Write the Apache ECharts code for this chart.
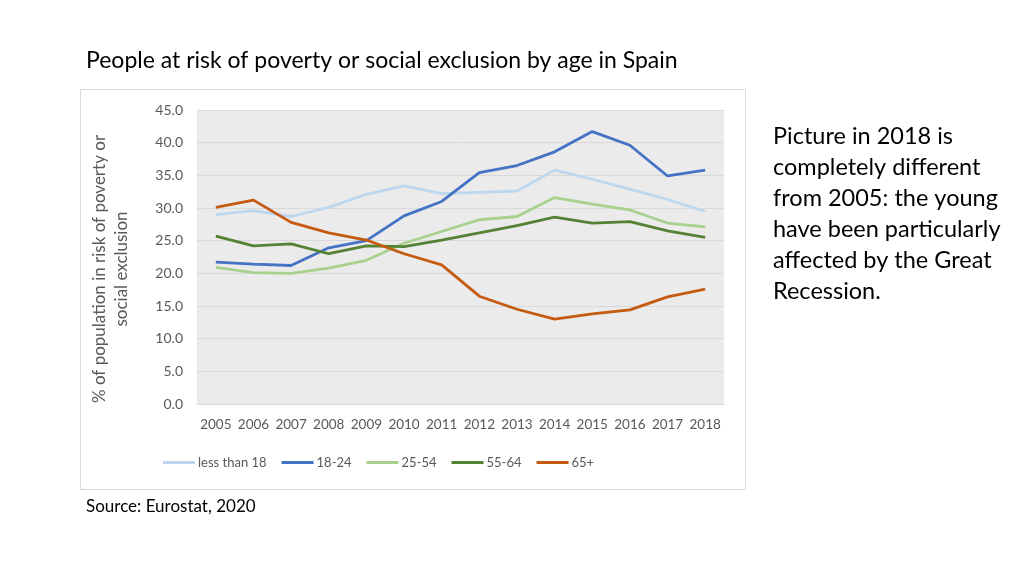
<!DOCTYPE html>
<html>
<head>
<meta charset="utf-8">
<script src="https://cdn.jsdelivr.net/npm/echarts@6/dist/echarts.min.js"></script>
<style>
  html, body { margin: 0; padding: 0; background: #fff; }
  #chart { width: 1024px; height: 576px; }
</style>
</head>
<body>
<div id="chart"></div>
<script>
// data (% of population)
const years = ['2005', '2006', '2007', '2008', '2009', '2010', '2011', '2012', '2013', '2014', '2015', '2016', '2017', '2018'];
const lessThan18 = [29.0, 29.6, 28.7, 30.1, 32.1, 33.4, 32.2, 32.4, 32.6, 35.8, 34.4, 32.9, 31.3, 29.5];
const age18to24 = [21.7, 21.4, 21.2, 23.9, 25.0, 28.8, 31.0, 35.4, 36.5, 38.6, 41.7, 39.6, 34.9, 35.8];
const age25to54 = [20.9, 20.1, 20.0, 20.8, 22.0, 24.6, 26.4, 28.2, 28.7, 31.6, 30.6, 29.7, 27.7, 27.1];
const age55to64 = [25.7, 24.2, 24.5, 23.0, 24.2, 24.1, 25.1, 26.2, 27.3, 28.6, 27.7, 27.9, 26.5, 25.5];
const age65plus = [30.1, 31.2, 27.8, 26.2, 25.1, 23.0, 21.3, 16.5, 14.5, 13.0, 13.8, 14.4, 16.4, 17.6];

const font = 'Lato, "Open Sans", sans-serif';

const myChart = echarts.init(document.getElementById('chart'));

function line(name, data, color) {
    return {
        name: name,
        type: 'line',
        data: data,
        showSymbol: false,
        symbol: 'none',
        lineStyle: { color: color, width: 2.8 },
        itemStyle: { color: color },
        z: 3
    };
}

const option = {
    animation: false,
    textStyle: { fontFamily: font },
    title: {
        text: 'People at risk of poverty or social exclusion by age in Spain',
        left: 86,
        top: 49,
        padding: 0,
        textStyle: { fontFamily: font, fontSize: 23, fontWeight: 'normal', color: '#000' }
    },
    graphic: [
        {
            type: 'rect',
            shape: { x: 80.5, y: 89.5, width: 665, height: 400 },
            style: { fill: 'none', stroke: '#d9d9d9', lineWidth: 1 },
            z: -1
        },
        {
            // y axis title, two lines, rotated
            type: 'text',
            x: 111,
            y: 269,
            rotation: Math.PI / 2,
            style: {
                text: '% of population in risk of poverty or\nsocial exclusion',
                font: '17px ' + font,
                lineHeight: 22,
                align: 'center',
                verticalAlign: 'middle',
                fill: '#595959'
            }
        },
        {
            type: 'text',
            left: 773,
            top: 121,
            style: {
                text: 'Picture in 2018 is\ncompletely different\nfrom 2005: the young\nhave been particularly\naffected by the Great\nRecession.',
                font: '23.5px ' + font,
                lineHeight: 31,
                fill: '#000'
            }
        },
        {
            type: 'text',
            left: 86,
            top: 498,
            style: { text: 'Source: Eurostat, 2020', font: '17px ' + font, fill: '#000' }
        }
    ],
    legend: {
        left: 158,
        top: 451,
        icon: 'rect',
        itemWidth: 32,
        itemHeight: 3,
        itemGap: 15,
        textStyle: { fontFamily: font, fontSize: 13, color: '#595959', padding: [0, 0, 0, -2] },
        data: ['less than 18', '18-24', '25-54', '55-64', '65+']
    },
    grid: {
        left: 197,
        right: 300,
        top: 110,
        bottom: 172,
        show: true,
        backgroundColor: '#ebebeb',
        borderWidth: 0
    },
    xAxis: {
        type: 'category',
        data: years,
        boundaryGap: true,
        axisLine: { lineStyle: { color: '#d9d9d9' } },
        axisTick: { show: false },
        axisLabel: { color: '#595959', fontSize: 13.5, margin: 14, interval: 0, fontFamily: font }
    },
    yAxis: {
        type: 'value',
        min: 0,
        max: 45,
        interval: 5,
        axisLine: { show: false },
        axisTick: { show: false },
        axisLabel: {
            color: '#595959', fontSize: 14, margin: 14, fontFamily: font,
            formatter: function (v) { return v.toFixed(1); }
        },
        splitLine: { lineStyle: { color: '#d9d9d9', width: 1 } }
    },
    series: [
        line('less than 18', lessThan18, '#bdd7ee'),
        line('18-24', age18to24, '#4472c4'),
        line('25-54', age25to54, '#a9d18e'),
        line('55-64', age55to64, '#548235'),
        line('65+', age65plus, '#c55a11')
    ]
};
myChart.setOption(option);
</script>
</body>
</html>
